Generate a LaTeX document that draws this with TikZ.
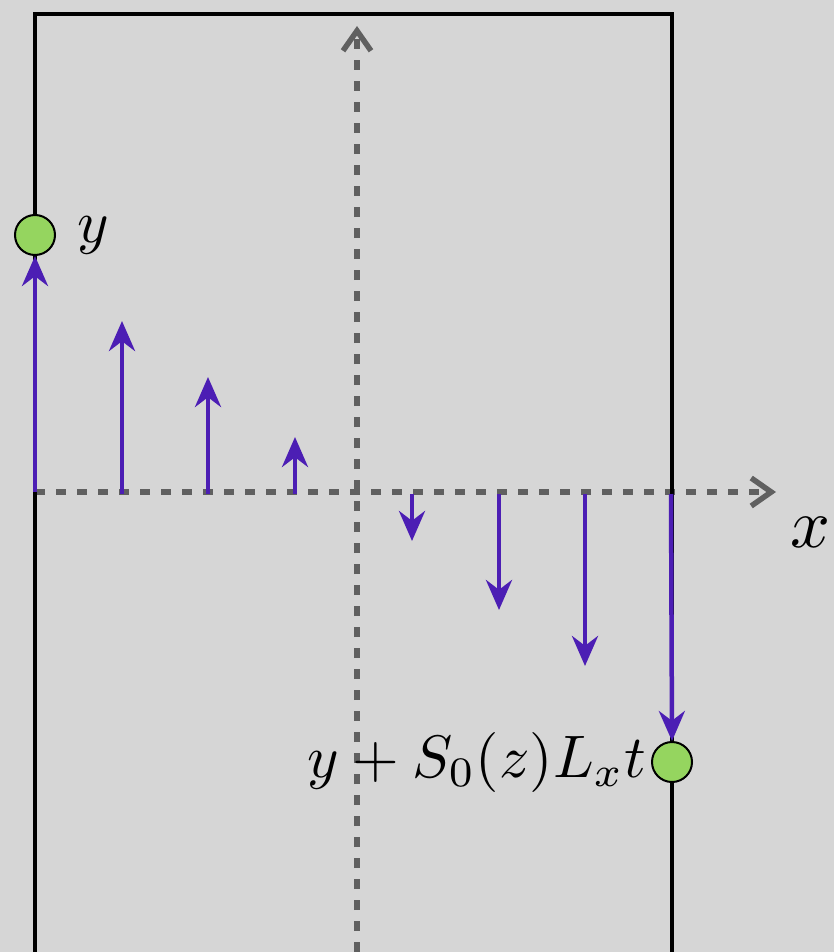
\documentclass[tikz,border=0pt]{standalone}
\usepackage{amsmath}
\usetikzlibrary{arrows.meta,positioning}
\definecolor{bggray}{RGB}{214,214,214}
\definecolor{axgray}{RGB}{96,96,96}
\definecolor{flowpurple}{RGB}{76,30,180}
\definecolor{dotgreen}{RGB}{149,213,95}
\tikzset{
  axisline/.style={axgray, line width=5.5pt, dash pattern=on 10pt off 11pt,
    -{Straight Barb[length=20pt, width=28pt, line width=5.5pt]}},
  shearvec/.style={flowpurple, line width=4.5pt, -{Stealth[length=30pt, width=26pt]}},
  tracer/.style={circle, draw=black, line width=2pt, fill=dotgreen, minimum size=40pt, inner sep=0pt},
  biglabel/.style={scale=6, inner sep=0pt}
}
\begin{document}
\begin{tikzpicture}[x=1pt, y=-1pt]
  \fill[bggray] (0,0) rectangle (834,952);
  \useasboundingbox (0,0) rectangle (834,952);
  % Achsen
  \coordinate (vbot) at (357,952);
  \coordinate (vtop) at (357,26);
  \coordinate (hleft) at (35,492);
  \coordinate (hright) at (776,492);
  \draw[axisline] (vbot) -- (vtop);
  \draw[axisline] (hleft) -- (hright);
  \node[scale=7, inner sep=0pt] (xlab) at (810,532) {$x$};
  % Kanal
  \draw[black, line width=4.5pt] (35,952) -- (35,14) -- (672,14) -- (672,952);
  % Tracer
  \node[tracer] (start) at (35,235) {};
  \node[tracer] (stop) at (672,762) {};
  \node[biglabel, right=20pt of start] (ylab) {$y$};
  \node[biglabel, left=4pt of stop] (shiftlab) {$y+S_0(z)L_xt$};
  % Scherprofil
  \foreach \px/\tip [count=\k] in {122/321, 208/377, 295/437, 412/541, 499/610, 585/666}{
    \coordinate (b\k) at (\px,494);
    \coordinate (t\k) at (\px,\tip);
    \draw[shearvec] (b\k) -- (t\k);
  }
  \coordinate (b0) at (35,492);
  \coordinate (b7) at (671,494);
  \draw[shearvec] (b0) -- (start.south);
  \draw[shearvec] (b7) -- (stop.north);
\end{tikzpicture}
\end{document}
